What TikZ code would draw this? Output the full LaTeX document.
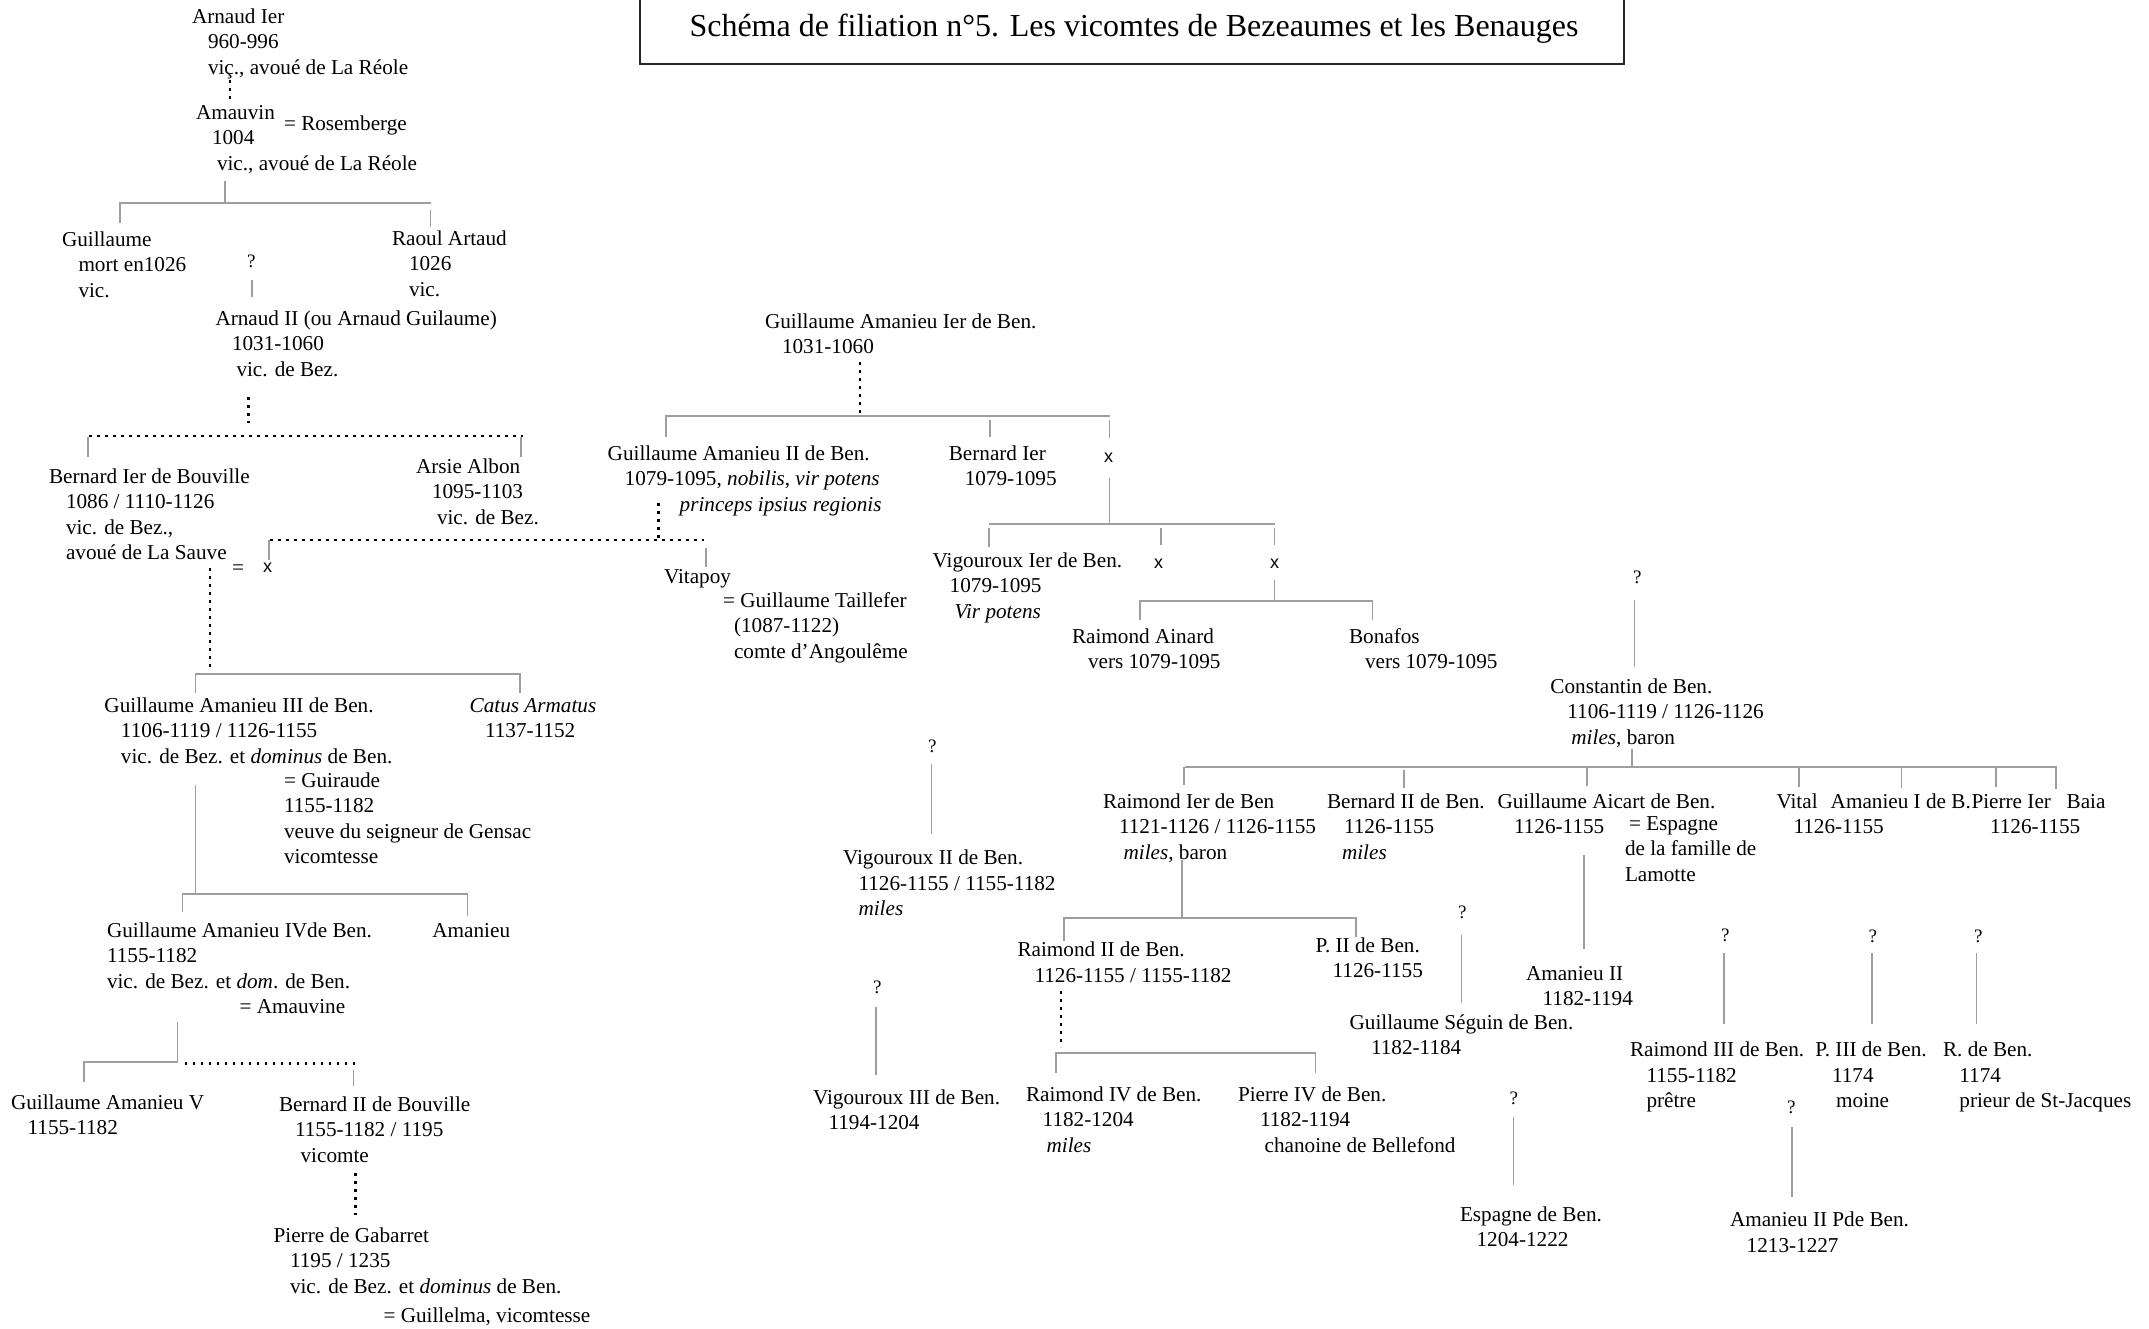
\documentclass[tikz,border=0pt]{standalone}
\usepackage{fontspec}
\setmainfont{Liberation Serif}
\newfontfamily\sansx{Liberation Sans}
\newdimen\pxu \pxu=0.5pt
\newcommand\ind[1]{\hspace*{#1\pxu}}
\newcommand\st{\rule{0pt}{12.75pt}}
\newcommand\fs{\fontsize{10.6pt}{12.75pt}\selectfont}
\tikzset{
  txt/.style={anchor=north west, inner sep=0pt, outer sep=0pt, align=left, font=\fs, yshift=12.75pt},
  one/.style={anchor=base west, inner sep=0pt, outer sep=0pt, font=\fs},
  qm/.style={anchor=base west, inner sep=0pt, outer sep=0pt, font=\fontsize{9.5pt}{11pt}\selectfont},
  xm/.style={anchor=base west, inner sep=0pt, outer sep=0pt, font=\sansx\fontsize{9pt}{11pt}\selectfont},
  kin/.style={draw=black!38, line width=0.6pt},
  dotl/.style={draw=black, line width=1.3pt, dash pattern=on 1.3pt off 2.7pt},
}
\begin{document}
\begin{tikzpicture}[x=0.5pt,y=-0.5pt]
\useasboundingbox (0,0) rectangle (2149,1329);
\fill[white] (0,0) rectangle (2149,1329);

% title
\draw[line width=1.3pt, black!85] (640,-5) -- (640,64) -- (1624,64) -- (1624,-5);
\node[anchor=base, inner sep=0pt, font=\fontsize{16pt}{19pt}\selectfont] (title) at (1134,36) {Schéma de filiation n°5. Les vicomtes de Bezeaumes et les Benauges};

% ---------- left branch ----------
\node[txt] (arn1) at (192,23) {\st Arnaud Ier\\\ind{16}960-996\\\ind{16}viç., avoué de La Réole};
\node[txt] (amv) at (196,119) {\st Amauvin\\\ind{16}1004\\\ind{21}vic., avoué de La Réole};
\node[one] (ros) at (284,130) {= Rosemberge};
\node[txt] (gui) at (62,246) {\st Guillaume\\\ind{16.5}mort en1026\\\ind{16.5}vic.};
\node[txt] (rao) at (392,245) {\st Raoul Artaud\\\ind{17}1026\\\ind{17}vic.};
\node[qm] (q1) at (247,267) {?};
\node[txt] (arn2) at (215.5,325) {\st Arnaud II (ou Arnaud Guilaume)\\\ind{16.5}1031-1060\\\ind{21}vic. de Bez.};
\node[txt] (ber1) at (49,483) {\st Bernard Ier de Bouville\\\ind{17}1086 / 1110-1126\\\ind{17}vic. de Bez.,\\\ind{17}avoué de La Sauve};
\node[one] (eq1) at (232,574) {=};
\node[xm] (x0) at (263,572) {x};
\node[txt] (ars) at (416,473) {\st Arsie Albon\\\ind{16}1095-1103\\\ind{21}vic. de Bez.};
\node[txt] (ga3) at (104.5,712) {\st Guillaume Amanieu III de Ben.\\\ind{16.5}1106-1119 / 1126-1155\\\ind{16.5}vic. de Bez. et \textit{dominus} de Ben.};
\node[txt] (gir) at (284,787) {\st = Guiraude\\1155-1182\\veuve du seigneur de Gensac\\vicomtesse};
\node[txt] (cat) at (469.7,712) {\st\textit{Catus Armatus}\\\ind{15.3}1137-1152};
\node[txt] (ga4) at (107,937) {\st Guillaume Amanieu IVde Ben.\\1155-1182\\vic. de Bez. et \textit{dom}. de Ben.\\\ind{132.6}= Amauvine};
\node[one] (ama) at (432.4,937) {Amanieu};
\node[txt] (ga5) at (11,1109) {\st Guillaume Amanieu V\\\ind{16.6}1155-1182};
\node[txt] (ber2) at (279,1111) {\st Bernard II de Bouville\\\ind{16}1155-1182 / 1195\\\ind{21.6}vicomte};
\node[txt] (pie) at (273.6,1242) {\st Pierre de Gabarret\\\ind{16.4}1195 / 1235\\\ind{16.4}vic. de Bez. et \textit{dominus} de Ben.};
\node[one] (gll) at (383.5,1322) {= Guillelma, vicomtesse};

% ---------- centre branch ----------
\node[txt] (ga1) at (765,328) {\st Guillaume Amanieu Ier de Ben.\\\ind{17}1031-1060};
\node[txt] (ga2) at (607.7,460) {\st Guillaume Amanieu II de Ben.\\\ind{17}1079-1095, \textit{nobilis}, \textit{vir potens}\\\ind{72}\textit{princeps ipsius regionis}};
\node[txt] (bern1) at (948.8,460) {\st Bernard Ier\\\ind{16}1079-1095};
\node[xm] (x1) at (1104,462) {x};
\node[txt] (vig1) at (932.7,567) {\st Vigouroux Ier de Ben.\\\ind{17}1079-1095\\\ind{22}\textit{Vir potens}};
\node[xm] (x2) at (1154,568) {x};
\node[xm] (x3) at (1270,568) {x};
\node[txt] (rai) at (1072,643) {\st Raimond Ainard\\\ind{16}vers 1079-1095};
\node[txt] (bon) at (1349,643) {\st Bonafos\\\ind{16}vers 1079-1095};
\node[one] (vit) at (664,583) {Vitapoy};
\node[txt] (tai) at (723,607) {\st = Guillaume Taillefer\\\ind{11}(1087-1122)\\\ind{11}comte d'Angoulême};
\node[qm] (q2) at (928,752) {?};
\node[txt] (vig2) at (843,864.5) {\st Vigouroux II de Ben.\\\ind{15.5}1126-1155 / 1155-1182\\\ind{15.5}\textit{miles}};
\node[qm] (q3) at (873,993) {?};
\node[txt] (vig3) at (813,1104) {\st Vigouroux III de Ben.\\\ind{15.5}1194-1204};

% ---------- right branch ----------
\node[qm] (q4) at (1633,583) {?};
\node[txt] (con) at (1550.4,693) {\st Constantin de Ben.\\\ind{17}1106-1119 / 1126-1126\\\ind{21}\textit{miles}, baron};
\node[txt] (rai1) at (1103,808) {\st Raimond Ier de Ben\\\ind{16}1121-1126 / 1126-1155\\\ind{20.6}\textit{miles}, baron};
\node[txt] (berb) at (1327,808) {\st Bernard II de Ben.\\\ind{17}1126-1155\\\ind{15}\textit{miles}};
\node[txt] (gac) at (1497.5,808) {\st Guillaume Aicart de Ben.\\\ind{16.5}1126-1155};
\node[txt] (esp) at (1625,830) {\st\ind{4}= Espagne\\de la famille de\\Lamotte};
\node[txt] (vtl) at (1776.5,808) {\st Vital\\\ind{17}1126-1155};
\node[one] (ami) at (1830.7,808) {Amanieu I de B.};
\node[txt] (pi1) at (1971.5,808) {\st Pierre Ier\\\ind{18.5}1126-1155};
\node[one] (baia) at (2066.6,808) {Baia};
\node[txt] (rai2) at (1017.5,956.7) {\st Raimond II de Ben.\\\ind{17}1126-1155 / 1155-1182};
\node[txt] (p2) at (1315.6,952) {\st P. II de Ben.\\\ind{17}1126-1155};
\node[txt] (rai4) at (1026,1101) {\st Raimond IV de Ben.\\\ind{16.7}1182-1204\\\ind{20.6}\textit{miles}};
\node[txt] (pie4) at (1238,1101) {\st Pierre IV de Ben.\\\ind{22}1182-1194\\\ind{26.7}chanoine de Bellefond};
\node[qm] (q5) at (1458,918.6) {?};
\node[txt] (gse) at (1349.6,1029) {\st Guillaume Séguin de Ben.\\\ind{21.4}1182-1184};
\node[txt] (am2) at (1526,980) {\st Amanieu II\\\ind{16.6}1182-1194};
\node[qm] (q6) at (1509.5,1104) {?};
\node[txt] (esb) at (1460,1221) {\st Espagne de Ben.\\\ind{16.6}1204-1222};
\node[qm] (q7) at (1721,941.7) {?};
\node[txt] (rai3) at (1630,1056.7) {\st Raimond III de Ben.\\\ind{16.5}1155-1182\\\ind{16.5}prêtre};
\node[qm] (q8) at (1868.5,942) {?};
\node[txt] (p3) at (1815.4,1056.7) {\st P. III de Ben.\\\ind{16.6}1174\\\ind{20.6}moine};
\node[qm] (q9) at (1974,942) {?};
\node[txt] (rdb) at (1943,1056.7) {\st R. de Ben.\\\ind{16.4}1174\\\ind{16.4}prieur de St-Jacques};
\node[qm] (q10) at (1787,1113) {?};
\node[txt] (am2p) at (1730,1226.7) {\st Amanieu II Pde Ben.\\\ind{16.7}1213-1227};

% ---------- connectors: left ----------
\draw[dotl] (230,80) -- (230,100);
\draw[kin] (225,181) -- (225,203) (120,223) -- (120,203) -- (430.5,203) (430.5,210) -- (430.5,227);
\draw[kin] (252,280) -- (252,297);
\draw[dotl] (248.7,397) -- (248.7,423);
\draw[dotl] (89,436) -- (523,436);
\draw[kin] (88,437) -- (88,457) (521,437) -- (521,457);
\draw[dotl] (210,568) -- (210,668);
\draw[kin] (195.5,693) -- (195.5,674) -- (520,674) -- (520,693);
\draw[kin] (195.3,784.5) -- (195.3,894);
\draw[kin] (182.4,912) -- (182.4,894) -- (467.7,894) -- (467.7,916);
\draw[kin] (177.4,1022) -- (177.4,1062) -- (84,1062) -- (84,1082);
\draw[dotl] (184.5,1063.5) -- (355.7,1063.5);
\draw[kin] (353.6,1069.7) -- (353.6,1086);
\draw[dotl] (355.7,1173) -- (355.7,1215);

% ---------- connectors: centre ----------
\draw[dotl] (658.5,503) -- (658.5,540);
\draw[dotl] (270,540) -- (704,540);
\draw[kin] (269,540) -- (269,560) (706,548) -- (706,567);
\draw[dotl] (860,362) -- (860,413);
\draw[kin] (666,437) -- (666,416) -- (1109.5,416) (990,420) -- (990,437) (1109.5,420) -- (1109.5,438);
\draw[kin] (1109.5,478) -- (1109.5,524);
\draw[kin] (989,524) -- (1275,524) (989,528) -- (989,547) (1161,528) -- (1161,545) (1274.6,528) -- (1274.6,545);
\draw[kin] (1274.5,580) -- (1274.5,601);
\draw[kin] (1140,620) -- (1140,601) -- (1372.5,601) -- (1372.5,620);
\draw[kin] (931.7,764) -- (931.7,834);
\draw[kin] (876,1007) -- (876,1075);

% ---------- connectors: right ----------
\draw[kin] (1634.4,600) -- (1634.4,667);
\draw[kin] (1632,749) -- (1632,767);
\draw[kin] (1185,767) -- (2057,767);
\draw[kin] (1184,767) -- (1184,785) (1404,770) -- (1404,788) (1587,768) -- (1587,786)
  (1799,768) -- (1799,787) (1901.5,768) -- (1901.5,788) (1996,768) -- (1996,787) (2056,768) -- (2056,789);
\draw[kin] (1182,860) -- (1182,918);
\draw[kin] (1064,941) -- (1064,918) -- (1356,918) -- (1356,937);
\draw[dotl] (1061,991) -- (1061,1047);
\draw[kin] (1056,1073) -- (1056,1053) -- (1315.6,1053) -- (1315.6,1073);
\draw[kin] (1461.5,934.7) -- (1461.5,1002.8);
\draw[kin] (1584,855) -- (1584,949);
\draw[kin] (1513.4,1117) -- (1513.4,1185);
\draw[kin] (1724,953) -- (1724,1024) (1872,953) -- (1872,1024) (1976.8,953) -- (1976.8,1024);
\draw[kin] (1792,1126.7) -- (1792,1196.7);
\end{tikzpicture}
\end{document}
